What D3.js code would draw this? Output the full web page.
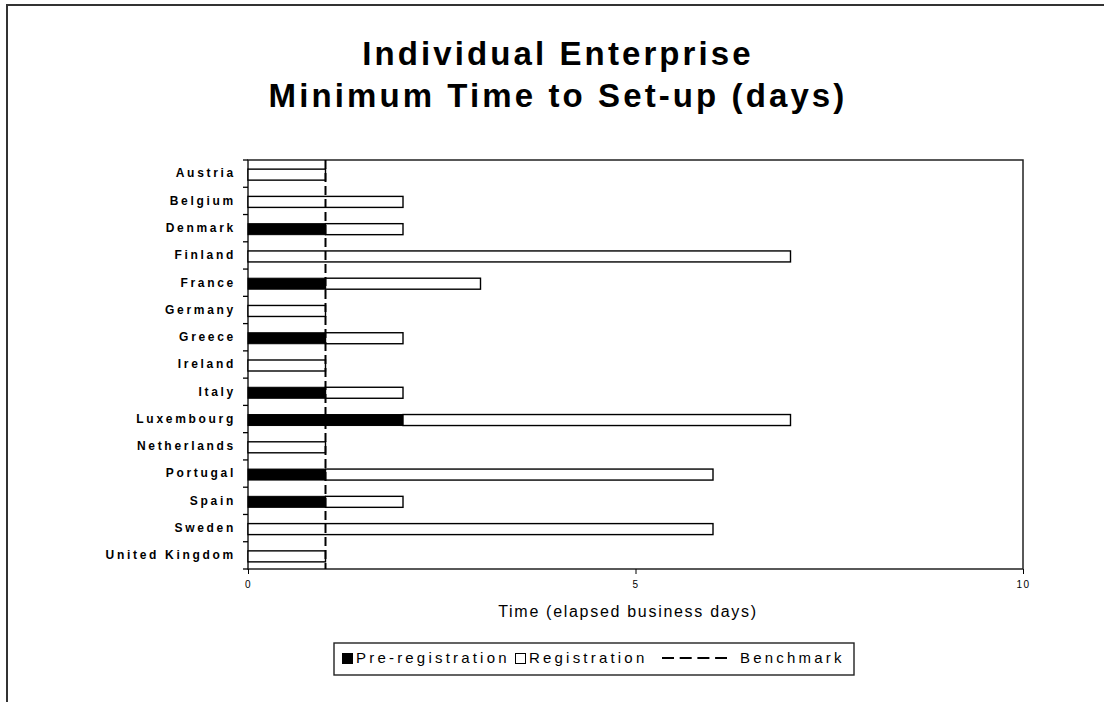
<!DOCTYPE html>
<html><head><meta charset="utf-8">
<script src="https://cdn.jsdelivr.net/npm/d3@7"></script>
<style>body{margin:0;background:#fff;} svg{display:block;}</style>
</head><body>
<svg id="c" width="1104" height="702"></svg>
<script>
const countries = ["Austria","Belgium","Denmark","Finland","France","Germany","Greece","Ireland","Italy","Luxembourg","Netherlands","Portugal","Spain","Sweden","United Kingdom"];
const preRegistration = [0,0,1,0,1,0,1,0,1,2,0,1,1,0,0];
const registration =    [1,2,1,7,2,1,1,1,1,5,1,5,1,6,1];
const benchmark = 1;
const xTicks = [0,5,10];
const titleLines = ["Individual Enterprise","Minimum Time to Set-up (days)"];
const xTitle = "Time (elapsed business days)";
const legendItems = ["Pre-registration","Registration","Benchmark"];

const svg = d3.select("#c");
const font = "Arial, 'Liberation Sans', sans-serif";
const m = {l:248, r:1023, t:160, b:569};

// outer frame
svg.append("path").attr("d","M7,702V5H1104").attr("fill","none").attr("stroke","#333").attr("stroke-width",2);

// title
svg.selectAll("text.title").data(titleLines).enter().append("text")
  .attr("x",558).attr("y",(d,i)=>65+i*42).attr("text-anchor","middle")
  .attr("font-family",font).attr("font-weight","bold").attr("font-size",33)
  .attr("letter-spacing",3.1).text(d=>d);

const x = d3.scaleLinear().domain([0,10]).range([m.l,m.r]);
const y = d3.scaleBand().domain(countries).range([m.t,m.b]).paddingInner(0).paddingOuter(0);
const bh = 11;

// plot frame
svg.append("rect").attr("x",m.l).attr("y",m.t).attr("width",m.r-m.l).attr("height",m.b-m.t)
  .attr("fill","none").attr("stroke","#222").attr("stroke-width",1.5);

// bars
const g = svg.append("g");
countries.forEach((c,i)=>{
  const yc = y(c)+y.bandwidth()/2 - bh/2 + 1;
  if(preRegistration[i]>0){
    g.append("rect").attr("x",x(0)).attr("y",yc).attr("width",x(preRegistration[i])-x(0)).attr("height",bh)
      .attr("fill","#000").attr("stroke","#000").attr("stroke-width",1);
  }
  g.append("rect").attr("x",x(preRegistration[i])).attr("y",yc)
    .attr("width",x(preRegistration[i]+registration[i])-x(preRegistration[i])).attr("height",bh)
    .attr("fill","#fff").attr("stroke","#000").attr("stroke-width",1.4);
});

// benchmark line
svg.append("line").attr("x1",x(benchmark)).attr("x2",x(benchmark)).attr("y1",m.t).attr("y2",m.b)
  .attr("stroke","#000").attr("stroke-width",2).attr("stroke-dasharray","9,4");

// y axis
const yAxis = d3.axisLeft(y).tickSize(0).tickPadding(12);
const ya = svg.append("g").attr("transform",`translate(${m.l},0)`).call(yAxis);
ya.select(".domain").remove();
ya.selectAll("text").attr("font-family",font).attr("font-weight","bold").attr("font-size",12)
  .attr("letter-spacing",2.7).attr("fill","#000");
// y boundary ticks
const bounds = countries.map(c=>y(c)).concat([m.b]);
svg.selectAll("line.yt").data(bounds).enter().append("line")
  .attr("x1",m.l-5).attr("x2",m.l).attr("y1",d=>d).attr("y2",d=>d).attr("stroke","#000").attr("stroke-width",1.3);

// x axis
const xAxis = d3.axisBottom(x).tickValues(xTicks).tickSize(5).tickPadding(7).tickFormat(d3.format("d"));
const xa = svg.append("g").attr("transform",`translate(0,${m.b})`).call(xAxis);
xa.select(".domain").remove();
xa.selectAll("line").attr("stroke","#000");
xa.selectAll("text").attr("font-family",font).attr("font-size",10).attr("letter-spacing",1.5).attr("fill","#000");

svg.append("text").attr("x",628).attr("y",617).attr("text-anchor","middle")
  .attr("font-family",font).attr("font-size",16).attr("letter-spacing",1.7).text(xTitle);

// legend
const lg = svg.append("g");
const ls = {size:15, sp:3.2, base:663};
lg.append("rect").attr("x",334).attr("y",643).attr("width",520).attr("height",32)
  .attr("fill","#fff").attr("stroke","#222").attr("stroke-width",1.4);
lg.append("rect").attr("x",342).attr("y",653).attr("width",11).attr("height",11).attr("fill","#000");
lg.append("text").attr("x",356).attr("y",ls.base).attr("font-family",font).attr("font-size",ls.size).attr("letter-spacing",ls.sp).text(legendItems[0]);
lg.append("rect").attr("x",515.5).attr("y",653.5).attr("width",10).attr("height",10).attr("fill","#fff").attr("stroke","#000").attr("stroke-width",1);
lg.append("text").attr("x",529).attr("y",ls.base).attr("font-family",font).attr("font-size",ls.size).attr("letter-spacing",ls.sp).text(legendItems[1]);
lg.append("line").attr("x1",662).attr("x2",727).attr("y1",658).attr("y2",658).attr("stroke","#000").attr("stroke-width",2).attr("stroke-dasharray","12,5.7");
lg.append("text").attr("x",740).attr("y",ls.base).attr("font-family",font).attr("font-size",ls.size).attr("letter-spacing",ls.sp).text(legendItems[2]);
</script>
</body></html>
